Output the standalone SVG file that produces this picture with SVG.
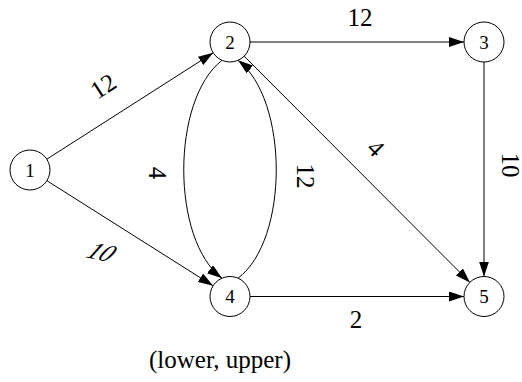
<svg xmlns="http://www.w3.org/2000/svg" width="522" height="382" viewBox="0 0 522 382">
<defs>
<marker id="arr" markerUnits="userSpaceOnUse" markerWidth="16" markerHeight="10" refX="15" refY="5" orient="auto">
<path d="M0,0 L15,5 L0,10 z" fill="#000"/>
</marker>
<style>
.n circle{fill:#fff;stroke:#000;stroke-width:1}
.n text{font-size:19px;text-anchor:middle;fill:#000}
.e path{fill:none;stroke:#000;stroke-width:1;marker-end:url(#arr)}
.l{font-size:25px;text-anchor:middle;fill:#000}
</style>
</defs>
<rect width="522" height="382" fill="#fff"/>
<g id="connectors" class="e">
<path d="M46.8,159.2 L213.2,52.8"/>
<path d="M46.9,180.7 L213.1,285.8"/>
<path d="M250,42 L464,42"/>
<path d="M244.1,56.1 L469.9,282.4"/>
<path d="M484,62 L484,276.5"/>
<path d="M250,296.5 L464,296.5"/>
<path d="M222,60.3 C171,100 171,240 222,278.2"/>
<path d="M238,278.2 C289,240 289,100 238,60.3"/>
</g>
<g id="labels" font-family="Liberation Serif, Times New Roman, serif">
<text class="l" transform="translate(103,86) rotate(-33)" y="8.5">12</text>
<text class="l" transform="translate(102,252) rotate(12) skewX(-30)" y="8.5">10</text>
<text class="l" x="360" y="26">12</text>
<text class="l" transform="translate(157,173) rotate(90)" y="8.5">4</text>
<text class="l" transform="translate(305,176) rotate(90)" y="8.5">12</text>
<text class="l" transform="translate(376,148) rotate(45)" y="8.5">4</text>
<text class="l" transform="translate(510,165) rotate(90)" y="8.5">10</text>
<text class="l" x="356" y="328">2</text>
<text class="l" x="220" y="368" font-size="25.5">(lower, upper)</text>
</g>
<g id="node1" class="n" font-family="Liberation Serif, Times New Roman, serif"><circle cx="30" cy="170" r="20"/><text x="30" y="176.5">1</text></g>
<g id="node2" class="n" font-family="Liberation Serif, Times New Roman, serif"><circle cx="230" cy="42" r="20"/><text x="230" y="48.5">2</text></g>
<g id="node3" class="n" font-family="Liberation Serif, Times New Roman, serif"><circle cx="484" cy="42" r="20"/><text x="484" y="48.5">3</text></g>
<g id="node4" class="n" font-family="Liberation Serif, Times New Roman, serif"><circle cx="230" cy="296.5" r="20"/><text x="230" y="303">4</text></g>
<g id="node5" class="n" font-family="Liberation Serif, Times New Roman, serif"><circle cx="484" cy="296.5" r="20"/><text x="484" y="303">5</text></g>
</svg>
